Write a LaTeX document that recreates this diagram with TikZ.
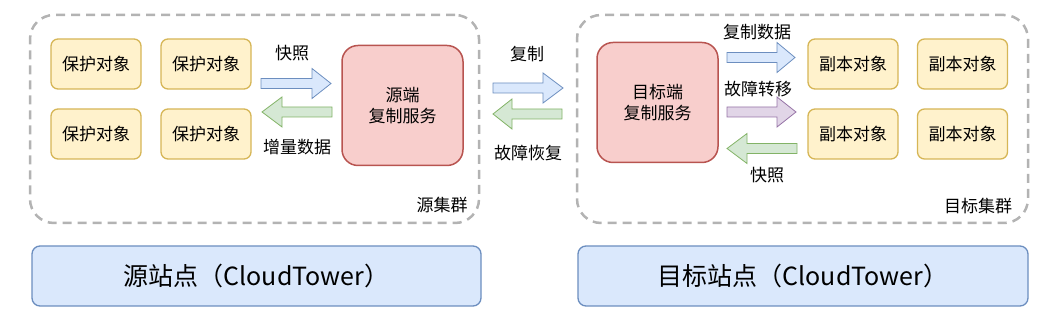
\documentclass[tikz,border=0pt]{standalone}
\usepackage{fontspec}
\setmainfont{Noto Sans CJK SC}
\definecolor{objF}{HTML}{FFF2CC}
\definecolor{objD}{HTML}{D6B656}
\definecolor{svcF}{HTML}{F8CECC}
\definecolor{svcD}{HTML}{B85450}
\definecolor{bluF}{HTML}{DAE8FC}
\definecolor{bluD}{HTML}{6C8EBF}
\definecolor{grnF}{HTML}{D5E8D4}
\definecolor{grnD}{HTML}{82B366}
\definecolor{purF}{HTML}{E1D5E7}
\definecolor{purD}{HTML}{9673A6}
\definecolor{clD}{HTML}{B3B3B3}
% block arrow: tail x, tip x, centre y, head base x, style
\newcommand\myRArrow[5]{\draw[#5] (#1,#3-5) -- (#4,#3-5) -- (#4,#3-15) -- (#2,#3) -- (#4,#3+15) -- (#4,#3+5) -- (#1,#3+5) -- cycle;}
\newcommand\myLArrow[5]{\draw[#5] (#1,#3-5) -- (#4,#3-5) -- (#4,#3-15) -- (#2,#3) -- (#4,#3+15) -- (#4,#3+5) -- (#1,#3+5) -- cycle;}
\begin{document}
\begin{tikzpicture}[x=1pt,y=-1pt,
  txt/.style={font=\fontsize{17}{20}\selectfont, text=black, inner sep=0},
  cluster/.style={draw=clD, line width=2.5, dash pattern=on 9 off 6, rounded corners=24, inner sep=0},
  obj/.style={draw=objD, fill=objF, line width=1.3, rounded corners=7, minimum width=90, minimum height=50, inner sep=0, font=\fontsize{17}{20}\selectfont},
  svc/.style={draw=svcD, fill=svcF, line width=1.5, rounded corners=16, minimum width=121, minimum height=120, inner sep=0, align=center, font=\fontsize{17}{21}\selectfont},
  site/.style={draw=bluD, fill=bluF, line width=1.3, rounded corners=8, minimum width=449, minimum height=60, inner sep=0, font=\fontsize{25}{29}\selectfont},
  blu/.style={draw=bluD, fill=bluF, line width=0.8},
  grn/.style={draw=grnD, fill=grnF, line width=0.8},
  pur/.style={draw=purD, fill=purF, line width=0.8}]
\useasboundingbox (0,0) rectangle (1058,328);
% clusters
\node[cluster, minimum width=449, minimum height=208] (srcCl) at (254.5,119) {};
\node[cluster, minimum width=451, minimum height=208] (tgtCl) at (802.5,119) {};
% source objects
\node[obj] (p1) at (96,64) {保护对象};
\node[obj] (p2) at (206,64) {保护对象};
\node[obj] (p3) at (96,134) {保护对象};
\node[obj] (p4) at (206,134) {保护对象};
\node[svc] (srcSvc) at (402.5,105.5) {源端\\复制服务};
\node[svc] (tgtSvc) at (657.5,102.5) {目标端\\复制服务};
% replicas
\node[obj] (r1) at (853,64) {副本对象};
\node[obj] (r2) at (962.5,64) {副本对象};
\node[obj] (r3) at (853,134) {副本对象};
\node[obj] (r4) at (962.5,134) {副本对象};
% sites
\node[site] (srcSite) at (256.5,276) {源站点（CloudTower）};
\node[site, minimum width=450] (tgtSite) at (803,276) {目标站点（CloudTower）};
% arrows
\myRArrow{261}{331}{83.5}{312}{blu}
\myLArrow{332}{262}{112}{282}{grn}
\myRArrow{493}{563}{88}{543}{blu}
\myLArrow{562}{493}{114}{512}{grn}
\myRArrow{727}{795}{57.5}{777}{blu}
\myRArrow{727}{796}{112}{777}{pur}
\myLArrow{797}{727}{148.5}{747}{grn}
% labels
\node[txt] (l1) at (292,53) {快照};
\node[txt] (l2) at (297,147) {增量数据};
\node[txt] (l3) at (442,205) {源集群};
\node[txt] (l4) at (527,54) {复制};
\node[txt] (l5) at (528,153) {故障恢复};
\node[txt] (l6) at (757,32) {复制数据};
\node[txt] (l7) at (758,89) {故障转移};
\node[txt] (l8) at (767,175) {快照};
\node[txt] (l9) at (978,206) {目标集群};
\end{tikzpicture}
\end{document}
